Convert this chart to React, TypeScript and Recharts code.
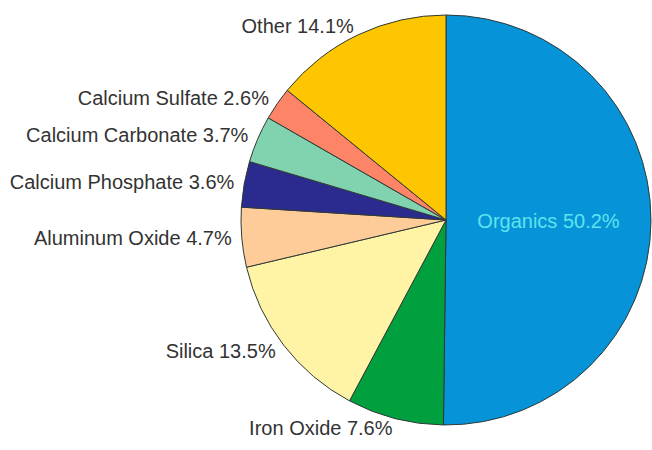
import React from 'react';
import { PieChart, Pie, Cell } from 'recharts';

const components = [
  'Organics',
  'Iron Oxide',
  'Silica',
  'Aluminum Oxide',
  'Calcium Phosphate',
  'Calcium Carbonate',
  'Calcium Sulfate',
  'Other',
];
const shares = [50.2, 7.6, 13.5, 4.7, 3.6, 3.7, 2.6, 14.1];
const sliceColors = [
  '#0793d7',
  '#00a03f',
  '#fff4a6',
  '#fdcc98',
  '#2b2a8e',
  '#80d3ae',
  '#fd8467',
  '#fec601',
];

const chartData = components.map((name, i) => ({ name, value: shares[i] }));

const RADIAN = Math.PI / 180;

const renderLabel = ({ cx, cy, midAngle, outerRadius, name, value, index }: any) => {
  const text = `${name} ${Number(value).toFixed(1)}%`;
  if (index === 0) {
    // biggest slice gets its label inside
    const r = outerRadius * 0.5;
    const x = cx + r * Math.cos(-midAngle * RADIAN);
    const y = cy + r * Math.sin(-midAngle * RADIAN);
    return (
      <text x={x} y={y} fill="#5de4ee" fontSize={20} textAnchor="middle" dominantBaseline="central">
        {text}
      </text>
    );
  }
  const r = outerRadius + 10;
  const x = cx + r * Math.cos(-midAngle * RADIAN);
  const y = cy + r * Math.sin(-midAngle * RADIAN);
  return (
    <text x={x} y={y} fill="#333333" fontSize={20} textAnchor="end" dominantBaseline="central">
      {text}
    </text>
  );
};

const App: React.FC = () => {
  return (
    <div
      style={{
        position: 'absolute',
        left: 0,
        top: 0,
        width: 652,
        height: 450,
        background: '#ffffff',
        fontFamily: '"Liberation Sans", Arial, sans-serif',
      }}
    >
      <PieChart width={652} height={450} margin={{ top: 0, right: 0, bottom: 0, left: 0 }}>
        <Pie
          data={chartData}
          dataKey="value"
          nameKey="name"
          cx={446}
          cy={220}
          outerRadius={205}
          startAngle={90}
          endAngle={-270}
          stroke="#2f3a36"
          strokeWidth={1}
          label={renderLabel}
          labelLine={false}
          isAnimationActive={false}
        >
          {chartData.map((entry, i) => (
            <Cell key={entry.name} fill={sliceColors[i]} />
          ))}
        </Pie>
      </PieChart>
    </div>
  );
};

export default App;
